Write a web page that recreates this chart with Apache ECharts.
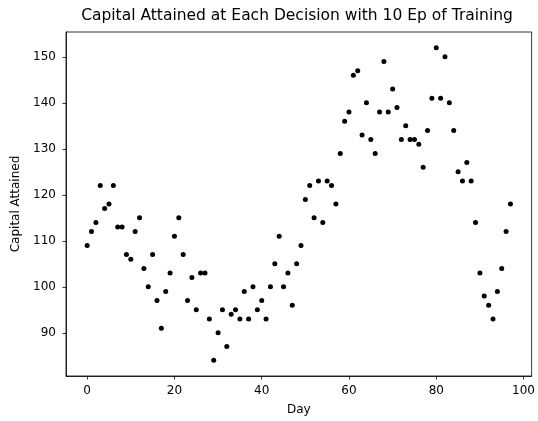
<!DOCTYPE html>
<html>
<head>
<meta charset="utf-8">
<script src="https://cdn.jsdelivr.net/npm/echarts@6/dist/echarts.min.js"></script>
<style>
  html, body { margin: 0; padding: 0; background: #fff; }
  #chart { width: 538px; height: 421px; }
</style>
</head>
<body>
<div id="chart"></div>
<script>
// Capital attained on each day of the evaluation run
const days = [];
for (let d = 0; d <= 97; d++) days.push(d);

const capital = [
  109, 112, 114, 122, 117, 118, 122, 113, 113, 107,
  106, 112, 115, 104, 100, 107, 97, 91, 99, 103,
  111, 115, 107, 97, 102, 95, 103, 103, 93, 84,
  90, 95, 87, 94, 95, 93, 99, 93, 100, 95,
  97, 93, 100, 105, 111, 100, 103, 96, 105, 109,
  119, 122, 115, 123, 114, 123, 122, 118, 129, 136,
  138, 146, 147, 133, 140, 132, 129, 138, 149, 138,
  143, 139, 132, 135, 132, 132, 131, 126, 134, 141,
  152, 141, 150, 140, 134, 125, 123, 127, 123, 114,
  103, 98, 96, 93, 99, 104, 112, 118
];

const xTicks = [0, 20, 40, 60, 80, 100];
const yTicks = [90, 100, 110, 120, 130, 140, 150];

const titleText = 'Capital Attained at Each Decision with 10 Ep of Training';
const xLabel = 'Day';
const yLabel = 'Capital Attained';

const points = days.map((d, i) => [d, capital[i]]);

// 5% padding around the data range on both axes
const xPad = (days[days.length - 1] - days[0]) * 0.05;
const yMinV = Math.min(...capital), yMaxV = Math.max(...capital);
const yPad = (yMaxV - yMinV) * 0.05;

const font = 'DejaVu Sans';
const chart = echarts.init(document.getElementById('chart'), null, { renderer: 'canvas' });

const axisCommon = {
  axisLine: { show: true, onZero: false, lineStyle: { color: '#000', width: 0.8 } },
  axisTick: { show: true, inside: false, length: 3.5, lineStyle: { color: '#000', width: 0.8 } },
  splitLine: { show: false },
  nameTextStyle: { fontFamily: font, fontSize: 12, color: '#000' }
};

chart.setOption({
  animation: false,
  backgroundColor: '#fff',
  grid: {
    left: 66, right: 4, top: 32, bottom: 41,
    show: true, borderColor: '#000', borderWidth: 0.8, backgroundColor: '#fff'
  },
  graphic: [{
    type: 'text',
    x: 297,
    y: 8,
    style: { text: titleText, font: '15.5px "DejaVu Sans"', fill: '#000', textAlign: 'center', textVerticalAlign: 'top' }
  }],
  xAxis: Object.assign({}, axisCommon, {
    type: 'value',
    min: days[0] - xPad,
    max: days[days.length - 1] + xPad,
    name: xLabel,
    nameLocation: 'middle',
    nameGap: 28,
    axisTick: Object.assign({}, axisCommon.axisTick, { customValues: xTicks }),
    axisLabel: { customValues: xTicks, margin: 9, fontFamily: font, fontSize: 12, color: '#000' }
  }),
  yAxis: Object.assign({}, axisCommon, {
    type: 'value',
    min: yMinV - yPad,
    max: yMaxV + yPad,
    name: yLabel,
    nameLocation: 'middle',
    nameGap: 41,
    axisTick: Object.assign({}, axisCommon.axisTick, { customValues: yTicks }),
    axisLabel: { customValues: yTicks, margin: 10, fontFamily: font, fontSize: 12, color: '#000' }
  }),
  series: [{
    type: 'scatter',
    data: points,
    symbol: 'circle',
    symbolSize: 5,
    itemStyle: { color: '#000', opacity: 1 }
  }]
});
</script>
</body>
</html>
